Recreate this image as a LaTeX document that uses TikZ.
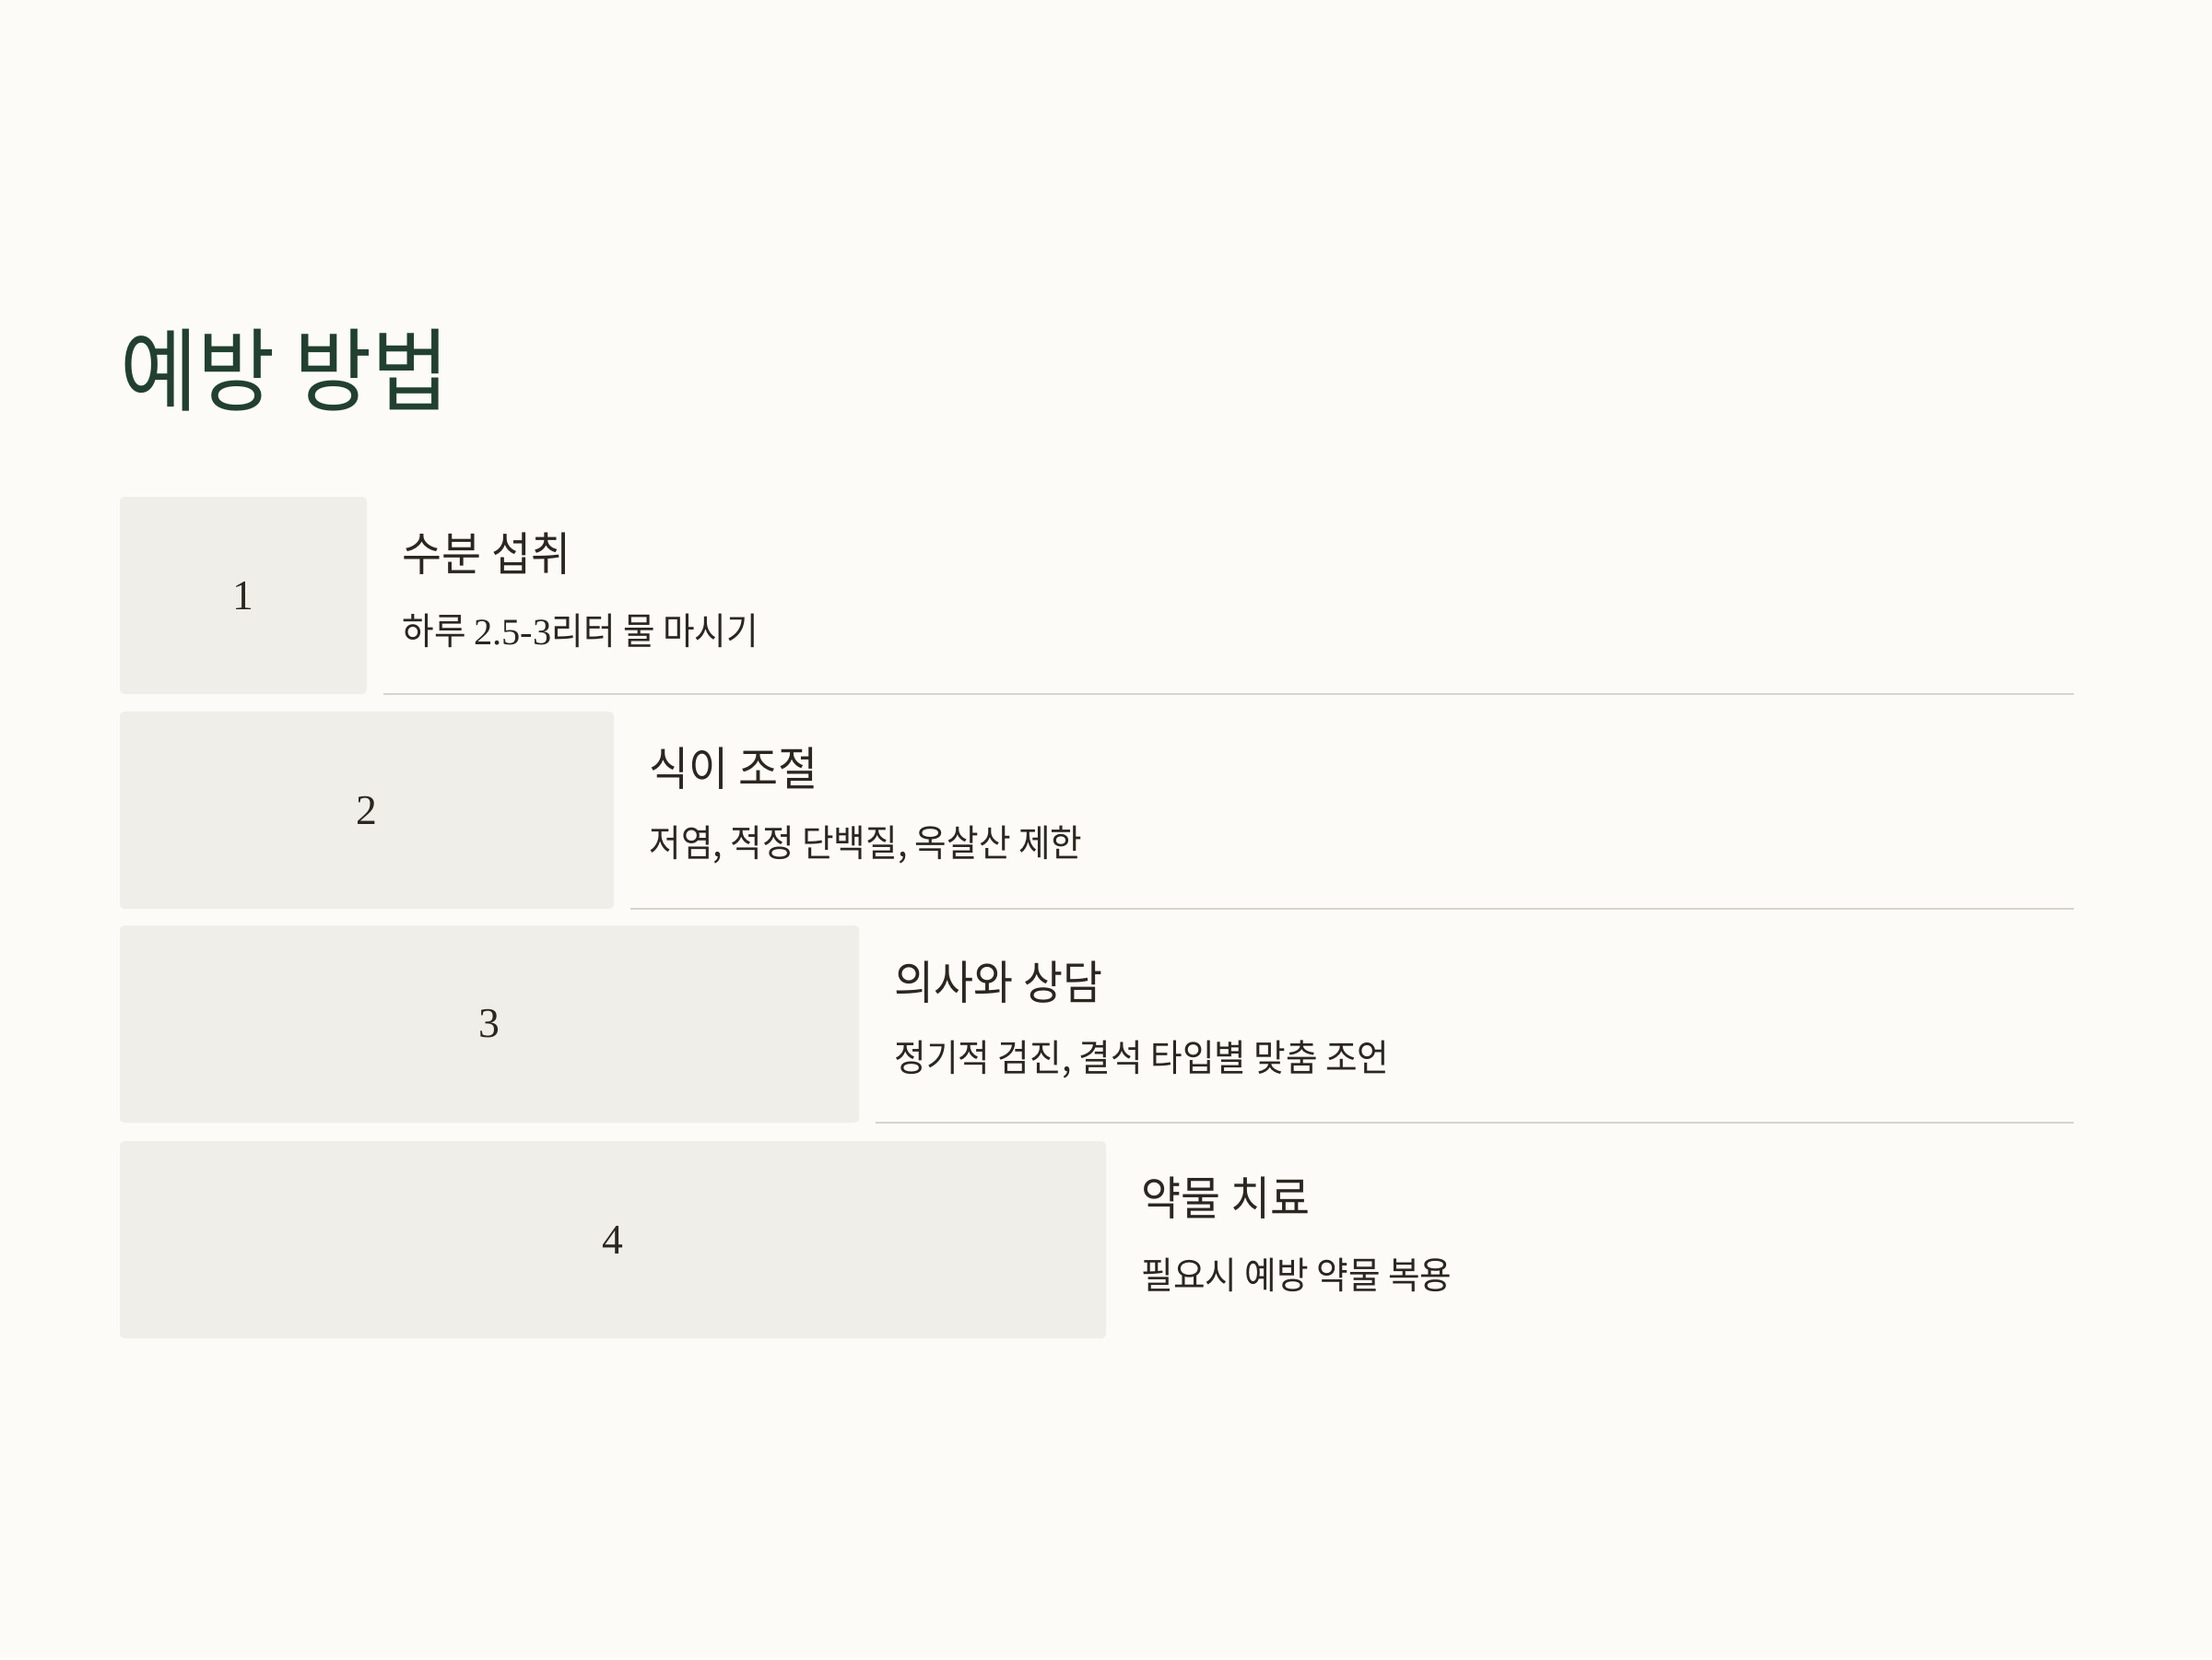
\documentclass[tikz,border=0pt]{standalone}
\usepackage{fontspec}
\setmainfont{Liberation Serif}
\newfontfamily\kr[FakeStretch=0.93]{Noto Sans CJK KR}
\usetikzlibrary{positioning}

\definecolor{pagebg}{HTML}{FCFBF7}
\definecolor{boxfill}{HTML}{F0EEE8}
\definecolor{rulegray}{HTML}{D6D4CC}
\definecolor{headgreen}{HTML}{22402F}
\definecolor{ink}{HTML}{2B2620}

\tikzset{
  stepbox/.style={fill=boxfill, rounded corners=0.05cm,
                  minimum height=2.14cm, inner sep=0pt, outer sep=0pt,
                  anchor=north west, text=ink,
                  font=\fontsize{13}{15}\selectfont},
  steptitle/.style={font=\kr\fontsize{14.3}{17}\selectfont, text=ink,
                    inner sep=0pt, anchor=west},
  stepdesc/.style={font=\kr\fontsize{11.5}{14}\selectfont, text=ink,
                   inner sep=0pt, anchor=west},
  sepline/.style={draw=rulegray, line width=0.02cm}
}

\begin{document}
\begin{tikzpicture}
\useasboundingbox[fill=pagebg] (0,0) rectangle (24,-18);

\node[anchor=west, inner sep=0pt, text=headgreen,
      font=\kr\fontsize{28}{32}\selectfont] (head) at (1.30,-4.02) {예방 방법};

% steps
\node[stepbox, minimum width=2.68cm] (b1) at (1.30,-5.39) {1};
\node[stepbox, minimum width=5.36cm] (b2) at (1.30,-7.72) {2};
\node[stepbox, minimum width=8.02cm] (b3) at (1.30,-10.04) {3};
\node[stepbox, minimum width=10.70cm] (b4) at (1.30,-12.38) {4};

\node[steptitle, right=0.38cm of b1.east, yshift=0.45cm] (t1) {수분 섭취};
\node[stepdesc, right=0.38cm of b1.east, yshift=-0.38cm] (d1)
  {하루 {\rmfamily 2.5-3}리터 물 마시기};
\node[steptitle, right=0.38cm of b2.east, yshift=0.45cm] (t2) {식이 조절};
\node[stepdesc, right=0.38cm of b2.east, yshift=-0.38cm] (d2)
  {저염, 적정 단백질, 옥살산 제한};
\node[steptitle, right=0.38cm of b3.east, yshift=0.45cm] (t3) {의사와 상담};
\node[stepdesc, right=0.38cm of b3.east, yshift=-0.38cm] (d3)
  {정기적 검진, 결석 타입별 맞춤 조언};
\node[steptitle, right=0.38cm of b4.east, yshift=0.45cm] (t4) {약물 치료};
\node[stepdesc, right=0.38cm of b4.east, yshift=-0.38cm] (d4)
  {필요시 예방 약물 복용};

% rules under rows
\coordinate (rend) at (22.50,0);
\draw[sepline] ([xshift=0.18cm]b1.south east) -- (rend |- b1.south);
\draw[sepline] ([xshift=0.18cm]b2.south east) -- (rend |- b2.south);
\draw[sepline] ([xshift=0.18cm]b3.south east) -- (rend |- b3.south);
\end{tikzpicture}
\end{document}
